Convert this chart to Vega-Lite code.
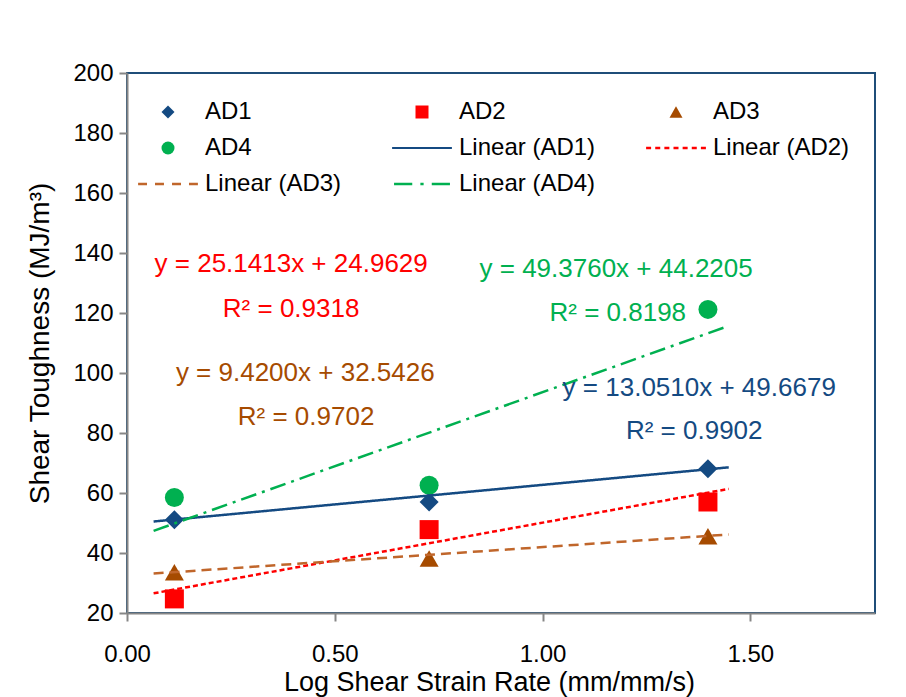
{
  "$schema": "https://vega.github.io/schema/vega-lite/v6.json",
  "width": 748,
  "height": 540,
  "autosize": {"type": "none"},
  "padding": {"left": 127, "top": 73, "right": 31, "bottom": 84},
  "background": "white",
  "config": {
    "font": "Liberation Sans",
    "view": {"stroke": "#1F4E79", "strokeWidth": 2},
    "axis": {
      "grid": false,
      "domainColor": "#868686",
      "domainWidth": 2,
      "tickColor": "#868686",
      "tickWidth": 2,
      "tickSize": 8,
      "labelFont": "Liberation Sans",
      "labelFontSize": 24,
      "labelColor": "#000000",
      "labelFlush": false,
      "labelOverlap": false,
      "titleFont": "Liberation Sans",
      "titleFontSize": 26,
      "titleFontWeight": "normal",
      "titleColor": "#000000"
    }
  },
  "datasets": {
    "points": [
      {"series": "AD1", "x": 0.114, "y": 51.1},
      {"series": "AD1", "x": 0.727, "y": 57.0},
      {"series": "AD1", "x": 1.398, "y": 68.1},
      {"series": "AD2", "x": 0.114, "y": 24.7},
      {"series": "AD2", "x": 0.727, "y": 47.8},
      {"series": "AD2", "x": 1.398, "y": 57.0},
      {"series": "AD3", "x": 0.114, "y": 33.6},
      {"series": "AD3", "x": 0.727, "y": 38.2},
      {"series": "AD3", "x": 1.398, "y": 45.6},
      {"series": "AD4", "x": 0.114, "y": 58.5},
      {"series": "AD4", "x": 0.727, "y": 62.6},
      {"series": "AD4", "x": 1.398, "y": 121.2}
    ],
    "trend": [
      {"series": "Linear (AD1)", "x": 0.064, "y": 50.50},
      {"series": "Linear (AD1)", "x": 1.448, "y": 68.56},
      {"series": "Linear (AD2)", "x": 0.064, "y": 26.57},
      {"series": "Linear (AD2)", "x": 1.448, "y": 61.37},
      {"series": "Linear (AD3)", "x": 0.064, "y": 33.15},
      {"series": "Linear (AD3)", "x": 1.448, "y": 46.18},
      {"series": "Linear (AD4)", "x": 0.064, "y": 47.38},
      {"series": "Linear (AD4)", "x": 1.448, "y": 115.72}
    ],
    "labels": [
      {"series": "AD2", "x": 0.395, "y": 136.3, "label": "y = 25.1413x + 24.9629"},
      {"series": "AD2", "x": 0.395, "y": 121.3, "label": "R² = 0.9318"},
      {"series": "AD3", "x": 0.429, "y": 100.1, "label": "y = 9.4200x + 32.5426"},
      {"series": "AD3", "x": 0.431, "y": 85.3, "label": "R² = 0.9702"},
      {"series": "AD4", "x": 1.177, "y": 134.8, "label": "y = 49.3760x + 44.2205"},
      {"series": "AD4", "x": 1.181, "y": 120.1, "label": "R² = 0.8198"},
      {"series": "AD1", "x": 1.377, "y": 94.9, "label": "y = 13.0510x + 49.6679"},
      {"series": "AD1", "x": 1.365, "y": 80.6, "label": "R² = 0.9902"}
    ]
  },
  "layer": [
    {
      "data": {"name": "points"},
      "mark": {"type": "point", "filled": true, "size": 361, "opacity": 1, "strokeWidth": 0},
      "encoding": {
        "x": {
          "field": "x", "type": "quantitative",
          "scale": {"domain": [0, 1.8], "nice": false, "zero": false},
          "axis": {"title": "Log Shear Strain Rate (mm/mm/s)", "values": [0, 0.5, 1, 1.5], "format": ".2f", "labelPadding": 21, "titlePadding": 3, "titleFontSize": 27, "titleX": 362}
        },
        "y": {
          "field": "y", "type": "quantitative",
          "scale": {"domain": [20, 200], "nice": false, "zero": false},
          "axis": {"title": "Shear Toughness (MJ/m³)", "values": [20, 40, 60, 80, 100, 120, 140, 160, 180, 200], "labelPadding": 6, "titlePadding": 18, "titleFontSize": 28}
        },
        "color": {
          "field": "series", "type": "nominal",
          "scale": {
            "domain": ["AD1", "AD2", "AD3", "AD4", "Linear (AD1)", "Linear (AD2)", "Linear (AD3)", "Linear (AD4)"],
            "range": ["#144A82", "#FF0000", "#A64B00", "#00B050", "#144A82", "#FF0000", "#C0662B", "#00B050"]
          },
          "legend": {"orient": "none", "direction": "horizontal", "legendX": 29, "legendY": 27, "columns": 3, "columnPadding": 50, "rowPadding": 12, "symbolSize": 169, "symbolStrokeWidth": 0, "symbolOpacity": 1, "labelOffset": 25, "labelFontSize": 24, "labelFont": "Liberation Sans", "labelColor": "#000000", "labelLimit": 400, "title": null, "padding": 0}
        },
        "shape": {
          "field": "series", "type": "nominal",
          "scale": {
            "domain": ["AD1", "AD2", "AD3", "AD4", "Linear (AD1)", "Linear (AD2)", "Linear (AD3)", "Linear (AD4)"],
            "range": [
              "diamond", "square", "triangle-up", "circle",
              "M-4.6,-0.16H4.6V0.16H-4.6Z",
              "M-4.6,-0.18H-3.83V0.18H-4.6Z M-3.195,-0.18H-2.425V0.18H-3.195Z M-1.79,-0.18H-1.02V0.18H-1.79Z M-0.385,-0.18H0.385V0.18H-0.385Z M1.02,-0.18H1.79V0.18H1.02Z M2.425,-0.18H3.195V0.18H2.425Z M3.83,-0.18H4.6V0.18H3.83Z",
              "M-4.6,-0.18H-3.23V0.18H-4.6Z M-2,-0.18H-0.62V0.18H-2Z M0.62,-0.18H2V0.18H0.62Z M3.23,-0.18H4.6V0.18H3.23Z",
              "M-4.3,-0.18H-1.5V0.18H-4.3Z M-0.25,-0.18H0.25V0.18H-0.25Z M1.5,-0.18H4.3V0.18H1.5Z"
            ]
          },
          "legend": {"orient": "none", "direction": "horizontal", "legendX": 29, "legendY": 27, "columns": 3, "columnPadding": 50, "rowPadding": 12, "symbolSize": 169, "symbolStrokeWidth": 0, "symbolOpacity": 1, "labelOffset": 25, "labelFontSize": 24, "labelFont": "Liberation Sans", "labelColor": "#000000", "labelLimit": 400, "title": null, "padding": 0}
        }
      }
    },
    {
      "data": {"name": "trend"},
      "mark": {"type": "line", "strokeWidth": 2.5},
      "encoding": {
        "x": {"field": "x", "type": "quantitative"},
        "y": {"field": "y", "type": "quantitative"},
        "color": {"field": "series", "type": "nominal", "legend": null},
        "strokeDash": {
          "field": "series", "type": "nominal",
          "scale": {"domain": ["Linear (AD1)", "Linear (AD2)", "Linear (AD3)", "Linear (AD4)"], "range": [[1, 0], [5, 3], [10, 6], [16, 6, 3, 6]]},
          "legend": null
        }
      }
    },
    {
      "data": {"name": "labels"},
      "mark": {"type": "text", "fontSize": 26, "font": "Liberation Sans", "align": "center", "baseline": "middle"},
      "encoding": {
        "x": {"field": "x", "type": "quantitative"},
        "y": {"field": "y", "type": "quantitative"},
        "text": {"field": "label"},
        "color": {"field": "series", "type": "nominal", "legend": null}
      }
    }
  ]
}
